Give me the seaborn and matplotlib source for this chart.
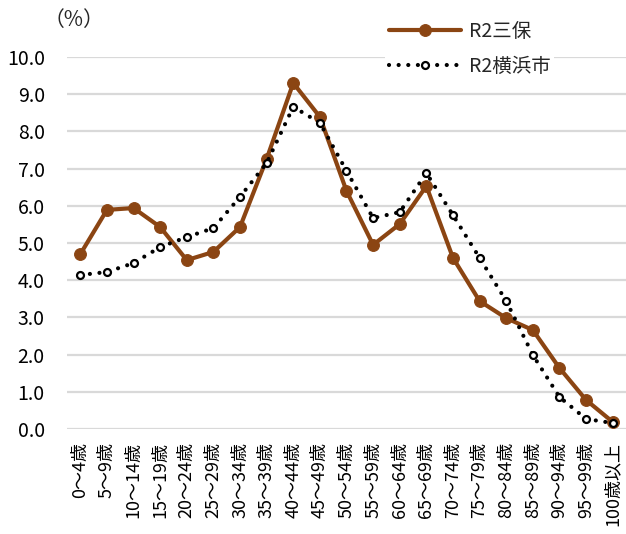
import matplotlib
matplotlib.use("Agg")
import matplotlib.pyplot as plt
import seaborn as sns
import pandas as pd
from matplotlib.ticker import FormatStrFormatter

age_groups = ["0～4歳", "5～9歳", "10～14歳", "15～19歳", "20～24歳", "25～29歳",
              "30～34歳", "35～39歳", "40～44歳", "45～49歳", "50～54歳", "55～59歳",
              "60～64歳", "65～69歳", "70～74歳", "75～79歳", "80～84歳", "85～89歳",
              "90～94歳", "95～99歳", "100歳以上"]
mio = [4.70, 5.89, 5.94, 5.43, 4.54, 4.76, 5.43, 7.26, 9.30, 8.39, 6.40,
       4.95, 5.51, 6.53, 4.60, 3.44, 2.98, 2.66, 1.64, 0.78, 0.19]
yokohama = [4.14, 4.22, 4.46, 4.89, 5.16, 5.40, 6.24, 7.15, 8.66, 8.23, 6.94,
            5.67, 5.83, 6.88, 5.75, 4.60, 3.44, 1.99, 0.86, 0.27, 0.16]
series_names = ["R2三保", "R2横浜市"]
yticks = [0, 1, 2, 3, 4, 5, 6, 7, 8, 9, 10]

sns.set_theme(style="white")
plt.rcParams['font.family'] = ['Noto Sans CJK JP', 'DejaVu Sans']

df = pd.DataFrame({"age": age_groups, "mio": mio, "yokohama": yokohama})

fig = plt.figure(figsize=(6.26, 5.34), dpi=100)
ax = fig.add_axes([67/626, 1-429/534, (626-67)/626, (429-57)/534])

brown = "#8B4513"
sns.lineplot(data=df, x="age", y="mio", ax=ax, sort=False, color=brown,
             linewidth=3.0, marker="o", markersize=8.5, markeredgecolor=brown,
             markerfacecolor=brown, label=series_names[0], zorder=3)
sns.lineplot(data=df, x="age", y="yokohama", ax=ax, sort=False, color="black",
             linewidth=3.0, linestyle=(0, (0.01, 2.3)), dash_capstyle="round",
             marker="o", markersize=5, markerfacecolor="white",
             markeredgecolor="black", markeredgewidth=1.6,
             label=series_names[1], zorder=4)

ax.set_xlim(-0.5, len(age_groups) - 0.5)
ax.set_ylim(0, 10)
ax.set_yticks(yticks)
ax.yaxis.set_major_formatter(FormatStrFormatter("%.1f"))
ax.grid(axis="y", color="#d9d9d9", linewidth=1.6)
ax.grid(axis="x", visible=False)
for s in ax.spines.values():
    s.set_visible(False)
ax.set_xlabel("")
ax.set_ylabel("")
ax.tick_params(axis="y", length=0, pad=16, labelsize=14, labelcolor="black")
ax.tick_params(axis="x", length=0, pad=9, labelsize=13, labelcolor="black")
plt.setp(ax.get_xticklabels(), rotation=90)

leg = ax.legend(loc="center left", bbox_to_anchor=(385/626, 1-49/534),
                bbox_transform=fig.transFigure, frameon=True, fontsize=14,
                handlelength=3.7, labelspacing=0.75, borderpad=0.2,
                handletextpad=0.4, borderaxespad=0)
leg.get_frame().set_facecolor("white")
leg.get_frame().set_edgecolor("none")
leg.get_frame().set_alpha(1)

fig.text(44/626, 1-20/534, "（%）", fontsize=15, ha="left", va="center")

fig.savefig("out.png", dpi=100)
